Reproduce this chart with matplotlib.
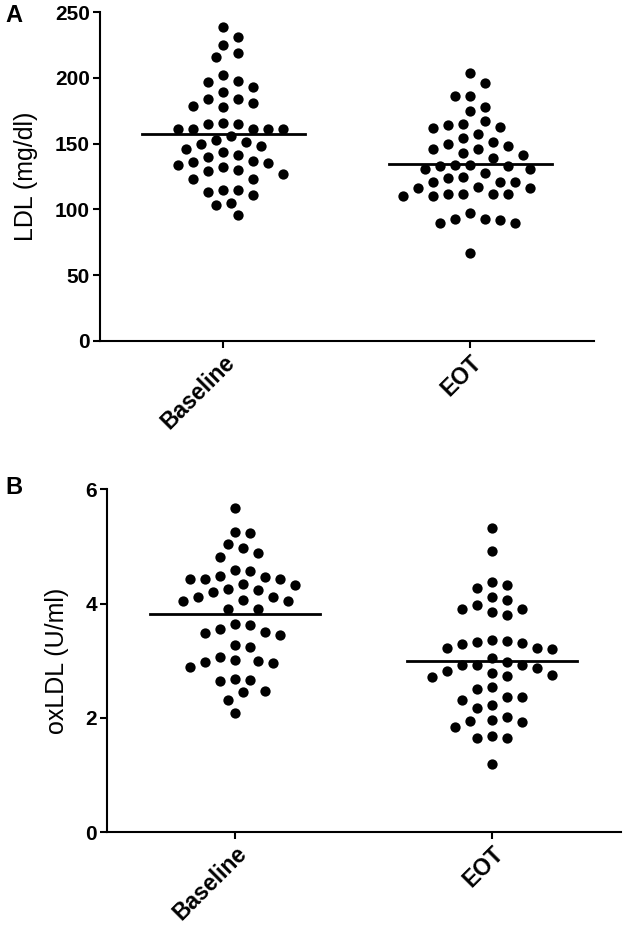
import numpy as np
import matplotlib
matplotlib.use("Agg")
import matplotlib.pyplot as plt

plt.rcParams['font.family'] = ['Liberation Sans', 'DejaVu Sans']

groups = ['Baseline', 'EOT']

# LDL (mg/dl)
ldl_baseline = [239, 231, 225, 219, 216, 202, 198, 197, 193, 189, 184, 184, 181,
                179, 178, 166, 165, 165, 161, 161, 161, 161, 161, 156, 153, 151,
                150, 148, 146, 144, 141, 140, 137, 136, 135, 134, 132, 130, 129,
                127, 123, 123, 115, 115, 113, 111, 105, 103, 96]
ldl_eot = [204, 196, 186, 186, 178, 175, 167, 165, 164, 163, 162, 157, 154, 151,
           150, 148, 146, 146, 143, 141, 139, 134, 134, 133, 133, 131, 131, 128,
           125, 124, 121, 121, 121, 116, 116, 117, 112, 112, 112, 112, 110, 110,
           97, 93, 93, 92, 90, 90, 67]

# oxLDL (U/ml)
ox_baseline = [5.68, 5.26, 5.24, 5.05, 4.97, 4.89, 4.81, 4.59, 4.57, 4.48, 4.46,
               4.43, 4.44, 4.44, 4.35, 4.32, 4.25, 4.24, 4.21, 4.12, 4.12, 4.06,
               4.04, 4.04, 3.91, 3.90, 3.64, 3.62, 3.56, 3.50, 3.48, 3.46, 3.27,
               3.24, 3.07, 3.01, 2.98, 2.96, 3.00, 2.89, 2.69, 2.67, 2.65, 2.47,
               2.45, 2.31, 2.09]
ox_eot = [5.32, 4.92, 4.38, 4.32, 4.28, 4.11, 4.07, 3.97, 3.91, 3.91, 3.85, 3.81,
          3.37, 3.35, 3.33, 3.32, 3.30, 3.23, 3.23, 3.20, 3.05, 2.98, 2.93, 2.93,
          2.92, 2.88, 2.83, 2.79, 2.76, 2.73, 2.72, 2.54, 2.50, 2.37, 2.36, 2.32,
          2.22, 2.17, 2.02, 1.97, 1.95, 1.93, 1.85, 1.69, 1.65, 1.65, 1.19]


def swarm_offsets(ax, values, center, step_px=7.5, min_dist_px=14):
    """Simple beeswarm: place each point at the nearest free slot (pixel space)."""
    fig = ax.figure
    fig.canvas.draw()
    order = np.argsort(values)[::-1]
    placed = []
    xs = np.zeros(len(values))
    x0_px = ax.transData.transform((center, 0))[0]
    x1_px = ax.transData.transform((center + 1, 0))[0]
    px_per_unit = x1_px - x0_px
    for idx in order:
        y_px = ax.transData.transform((center, values[idx]))[1]
        k = 0
        while True:
            cands = [0] if k == 0 else [k, -k]
            done = False
            for c in cands:
                xp = c * step_px
                ok = all((xp - px) ** 2 + (y_px - py) ** 2 >= min_dist_px ** 2
                         for px, py in placed)
                if ok:
                    placed.append((xp, y_px))
                    xs[idx] = center + xp / px_per_unit
                    done = True
                    break
            if done:
                break
            k += 1
    return xs


def draw_panel(ax, data, ylim, yticks, ylabel):
    ax.set_xlim(-0.5, 1.5)
    ax.set_ylim(*ylim)
    for i, vals in enumerate(data):
        vals = np.asarray(vals, dtype=float)
        xs = swarm_offsets(ax, vals, i)
        ax.scatter(xs, vals, s=55, color='black', zorder=3, linewidths=0)
        m = vals.mean()
        ax.plot([i - 0.33, i + 0.33], [m, m], color='black', lw=2.0, zorder=4)

    ax.set_yticks(yticks)
    ax.set_yticklabels([str(t) for t in yticks], fontsize=15, fontweight='bold')
    ax.set_xticks(range(len(groups)))
    ax.set_xticklabels(groups, rotation=45, ha='right', rotation_mode='anchor',
                       fontsize=16.5, fontweight='bold')
    ax.set_ylabel(ylabel, fontsize=18, labelpad=12)
    for side in ['top', 'right']:
        ax.spines[side].set_visible(False)
    for side in ['left', 'bottom']:
        ax.spines[side].set_linewidth(1.5)
    ax.tick_params(direction='out', length=5, width=1.5, pad=2)


fig = plt.figure(figsize=(6.24, 9.34), dpi=100)
ax_a = fig.add_axes([0.160, 0.635, 0.792, 0.352])
ax_b = fig.add_axes([0.171, 0.109, 0.824, 0.367])

draw_panel(ax_a, [ldl_baseline, ldl_eot], (0, 250), [0, 50, 100, 150, 200, 250],
           'LDL (mg/dl)')
draw_panel(ax_b, [ox_baseline, ox_eot], (0, 6), [0, 2, 4, 6],
           'oxLDL (U/ml)')

fig.text(0.008, 0.983, 'A', fontsize=17, fontweight='bold', va='center', ha='left')
fig.text(0.008, 0.478, 'B', fontsize=17, fontweight='bold', va='center', ha='left')

fig.savefig('out.png', dpi=100)
